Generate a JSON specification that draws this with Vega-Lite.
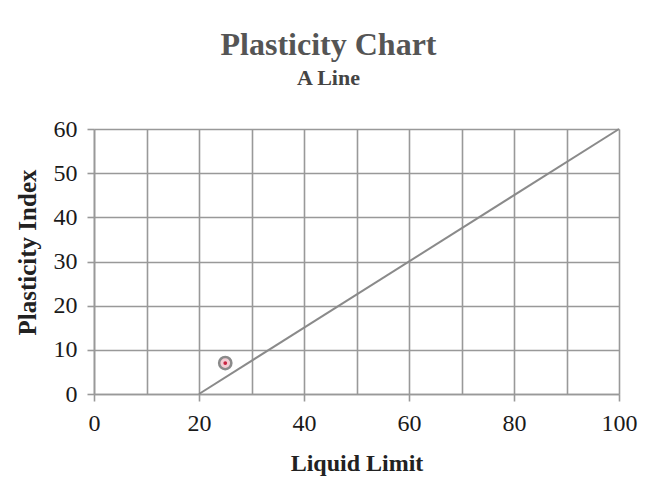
{
  "$schema": "https://vega.github.io/schema/vega-lite/v6.json",
  "width": 525,
  "height": 265,
  "autosize": {"type": "none"},
  "padding": {"left": 94, "top": 129, "right": 29, "bottom": 101},
  "background": "white",
  "title": {
    "text": "Plasticity Chart",
    "subtitle": "A Line",
    "anchor": "middle",
    "dx": -28,
    "offset": 27,
    "font": "Liberation Serif",
    "fontSize": 32,
    "fontWeight": "bold",
    "color": "#555555",
    "subtitleFont": "Liberation Serif",
    "subtitleFontSize": 22,
    "subtitleFontWeight": "bold",
    "subtitleColor": "#444444",
    "subtitlePadding": 6
  },
  "config": {
    "view": {"stroke": null},
    "axis": {
      "labelFont": "Liberation Serif",
      "labelFontSize": 24,
      "labelColor": "#1a1a1a",
      "labelFlush": false,
      "titleFont": "Liberation Serif",
      "titleFontSize": 24,
      "titleFontWeight": "bold",
      "titleColor": "#222222",
      "gridColor": "#999999",
      "gridWidth": 1.6,
      "gridOpacity": 1,
      "domainColor": "#999999",
      "domainWidth": 1.6,
      "tickColor": "#999999",
      "tickWidth": 1.6,
      "labelOverlap": false
    }
  },
  "datasets": {
    "aline": [
      {"LL": 20, "PI": 0},
      {"LL": 100, "PI": 60}
    ],
    "sample": [
      {"LL": 25, "PI": 7}
    ]
  },
  "layer": [
    {
      "data": {"name": "aline"},
      "mark": {"type": "line", "color": "#8a8a8a", "strokeWidth": 2},
      "encoding": {
        "x": {
          "field": "LL",
          "type": "quantitative",
          "scale": {"domain": [0, 100], "nice": false},
          "axis": {
            "title": "Liquid Limit",
            "values": [0, 10, 20, 30, 40, 50, 60, 70, 80, 90, 100],
            "labelExpr": "datum.value % 20 === 0 ? datum.label : ''",
            "tickOpacity": {"condition": {"test": "datum.value % 20 !== 0", "value": 0}, "value": 1},
            "tickSize": 7,
            "labelPadding": 10,
            "titlePadding": 16
          }
        },
        "y": {
          "field": "PI",
          "type": "quantitative",
          "scale": {"domain": [0, 60], "nice": false},
          "axis": {
            "title": "Plasticity Index",
            "values": [0, 5, 10, 15, 20, 25, 30, 35, 40, 45, 50, 55, 60],
            "labelExpr": "datum.value % 10 === 0 ? datum.label : ''",
            "tickOpacity": {"condition": {"test": "datum.value % 10 !== 0", "value": 0}, "value": 1},
            "tickSize": 7,
            "labelPadding": 10,
            "titlePadding": 13,
            "titleFontSize": 25,
            "titleY": 123
          }
        }
      }
    },
    {
      "data": {"name": "sample"},
      "mark": {"type": "point", "shape": "circle", "filled": true, "fill": "#f2cdd4", "stroke": "#8a8a8a", "strokeWidth": 2.5, "size": 150, "opacity": 1},
      "encoding": {
        "x": {"field": "LL", "type": "quantitative"},
        "y": {"field": "PI", "type": "quantitative"}
      }
    },
    {
      "data": {"name": "sample"},
      "mark": {"type": "point", "shape": "circle", "filled": true, "color": "#c8223f", "size": 14, "opacity": 1},
      "encoding": {
        "x": {"field": "LL", "type": "quantitative"},
        "y": {"field": "PI", "type": "quantitative"}
      }
    }
  ]
}
